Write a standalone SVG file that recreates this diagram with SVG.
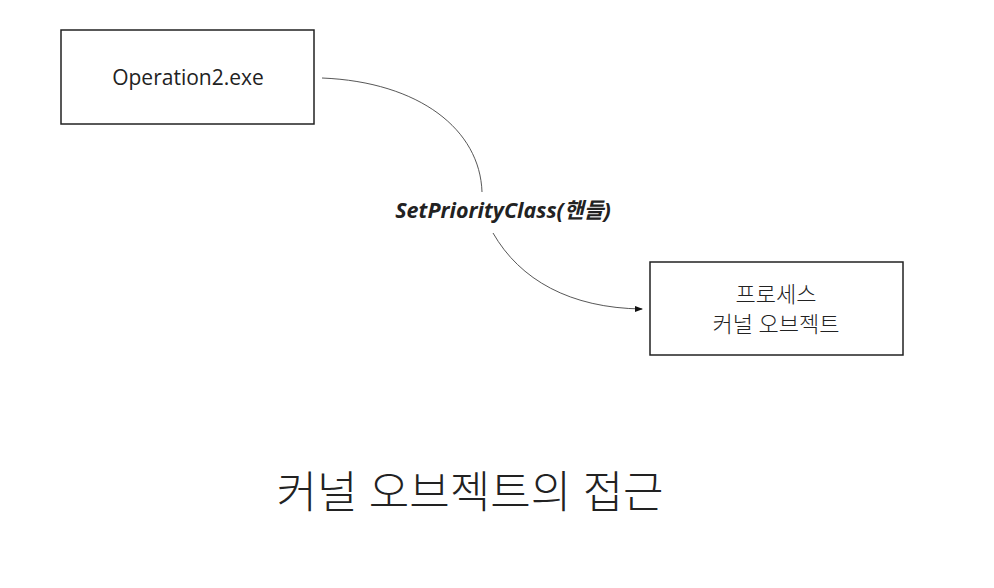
<svg xmlns="http://www.w3.org/2000/svg" width="994" height="588" viewBox="0 0 994 588">
<style>
.box{fill:#fff;stroke:#222;stroke-width:1.5}
.t{font-family:"Open Sans","Noto Sans CJK KR",sans-serif;fill:#222;text-anchor:middle}
.c{fill:none;stroke:#444;stroke-width:0.9}
</style>
<defs>
<marker id="a" markerWidth="8" markerHeight="8" refX="7" refY="4" orient="auto" markerUnits="userSpaceOnUse"><path d="M0,1 L8,4 L0,7 Z" fill="#111"/></marker>
</defs>
<rect width="994" height="588" fill="#fff"/>
<g id="n1"><rect class="box" x="61" y="30" width="253" height="94"/><text class="t" x="188" y="85" font-size="21">Operation2.exe</text></g>
<g id="n2"><rect class="box" x="650" y="262" width="253" height="93"/><text class="t" x="776" y="302" font-size="22" font-weight="300">프로세스</text><text class="t" x="776" y="332" font-size="22" font-weight="300">커널 오브젝트</text></g>
<g id="edges">
<path class="c" d="M322,78 C420,82 480,130 482,192"/>
<path class="c" d="M493,233 C520,280 570,308 642,309" marker-end="url(#a)"/>
<text class="t" x="503" y="218" font-size="21.5" font-weight="bold" font-style="italic" fill="#111">SetPriorityClass(핸들)</text>
</g>
<text class="t" x="470" y="508" font-size="44" font-weight="300">커널 오브젝트의 접근</text>
</svg>
